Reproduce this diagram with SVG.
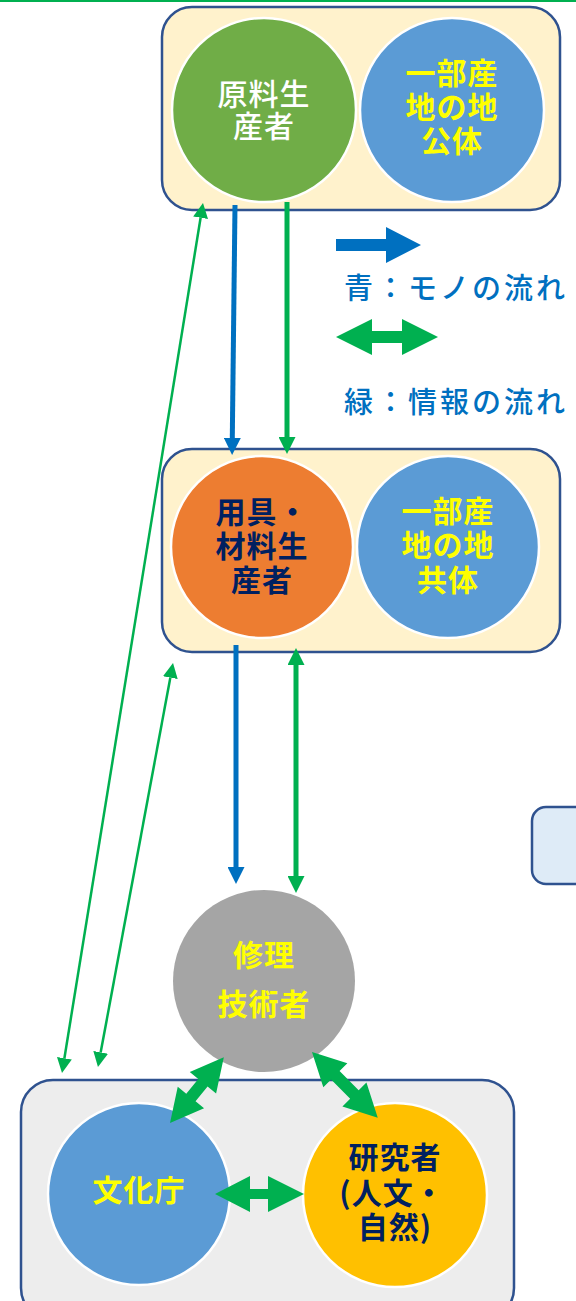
<svg xmlns="http://www.w3.org/2000/svg" width="576" height="1301" viewBox="0 0 576 1301">
<style>
.box{stroke:#2F528F;stroke-width:2.5}
.cir{stroke:#FFFFFF;stroke-width:2.5}
.t{font-family:"Noto Sans CJK JP","Noto Sans",sans-serif;font-size:30px;letter-spacing:1px;text-anchor:middle}
.b{font-weight:bold}
.m{font-weight:500}
.yel{fill:#FFFF00}
.nav{fill:#002060}
.wht{fill:#FFFFFF}
.leg{font-family:"Noto Sans CJK JP","Noto Sans",sans-serif;font-size:29px;font-weight:500;fill:#0070C0;letter-spacing:3px}
.gl{stroke:#00B050;fill:none}
.bl{stroke:#0070C0;fill:none}
</style>
<defs>
<marker id="hB" viewBox="0 0 17 17" refX="0" refY="8.5" markerWidth="17" markerHeight="17" markerUnits="userSpaceOnUse" orient="auto-start-reverse"><path d="M0,0 L17,8.5 L0,17 Z" fill="#0070C0"/></marker>
<marker id="hG" viewBox="0 0 17 17" refX="0" refY="8.5" markerWidth="17" markerHeight="17" markerUnits="userSpaceOnUse" orient="auto-start-reverse"><path d="M0,0 L17,8.5 L0,17 Z" fill="#00B050"/></marker>
<marker id="hT" viewBox="0 0 15 15" refX="0" refY="7.5" markerWidth="15" markerHeight="15" markerUnits="userSpaceOnUse" orient="auto-start-reverse"><path d="M0,0 L15,7.5 L0,15 Z" fill="#00B050"/></marker>
</defs>
<rect width="576" height="1301" fill="#FFFFFF"/>
<line x1="0" y1="1" x2="576" y2="1" stroke="#00B050" stroke-width="2"/>

<g id="group-top">
<rect class="box" x="162" y="7" width="398" height="203" rx="30" fill="#FFF2CC"/>
</g>
<g id="node-genryo">
<circle class="cir" cx="264" cy="110" r="92" fill="#70AD47"/>
<text class="t m wht" x="264" y="105">原料生</text>
<text class="t m wht" x="264" y="137">産者</text>
</g>
<g id="node-jichitai-1">
<circle class="cir" cx="452" cy="110" r="92" fill="#5B9BD5"/>
<text class="t b yel" x="452" y="84">一部産</text>
<text class="t b yel" x="452" y="118">地の地</text>
<text class="t b yel" x="452" y="152">公体</text>
</g>

<g id="legend">
<path d="M336,239 L386,239 L386,227 L421,245 L386,263 L386,251 L336,251 Z" fill="#0070C0"/>
<text class="leg" x="344" y="299">青：モノの流れ</text>
<path d="M336,337 L372,319 L372,331 L402,331 L402,319 L438,337 L402,355 L402,343 L372,343 L372,355 Z" fill="#00B050"/>
<text class="leg" x="344" y="413">緑：情報の流れ</text>
</g>

<g id="group-mid">
<rect class="box" x="162" y="449" width="398" height="203" rx="30" fill="#FFF2CC"/>
</g>
<g id="node-yogu">
<circle class="cir" cx="262" cy="547" r="91" fill="#ED7D31"/>
<text class="t b nav" x="262" y="523">用具・</text>
<text class="t b nav" x="262" y="557">材料生</text>
<text class="t b nav" x="262" y="591">産者</text>
</g>
<g id="node-jichitai-2">
<circle class="cir" cx="448" cy="547" r="91" fill="#5B9BD5"/>
<text class="t b yel" x="448" y="522">一部産</text>
<text class="t b yel" x="448" y="556">地の地</text>
<text class="t b yel" x="448" y="591">共体</text>
</g>

<g id="node-partial">
<rect class="box" x="532" y="807" width="70" height="77" rx="14" fill="#DEEBF7"/>
</g>

<g id="node-shuri">
<circle cx="264" cy="981" r="91" fill="#A5A5A5"/>
<text class="t b yel" x="264" y="966">修理</text>
<text class="t b yel" x="264" y="1015">技術者</text>
</g>

<g id="group-bottom">
<rect class="box" x="21" y="1080" width="493" height="240" rx="32" fill="#EDEDED"/>
</g>
<g id="node-bunkacho">
<circle class="cir" cx="139" cy="1194" r="91" fill="#5B9BD5"/>
<text class="t b yel" x="139" y="1201">文化庁</text>
</g>
<g id="node-kenkyusha">
<circle class="cir" cx="395" cy="1195" r="92" fill="#FFC000"/>
<text class="t b nav" x="395" y="1168">研究者</text>
<text class="t b nav" x="392" y="1204">(人文・</text>
<text class="t b nav" x="395" y="1238">自然)</text>
</g>

<g id="connectors">
<line class="bl" x1="235" y1="205" x2="232.3" y2="438" stroke-width="5" marker-end="url(#hB)"/>
<line class="gl" x1="287" y1="202" x2="287" y2="437" stroke-width="5" marker-end="url(#hG)"/>
<line class="bl" x1="236" y1="645" x2="236" y2="867" stroke-width="5" marker-end="url(#hB)"/>
<line class="gl" x1="296" y1="665" x2="296" y2="876" stroke-width="5" marker-start="url(#hG)" marker-end="url(#hG)"/>
<line class="gl" x1="200.6" y1="217.8" x2="64.4" y2="1058.2" stroke-width="2.5" marker-start="url(#hT)" marker-end="url(#hT)"/>
<line class="gl" x1="170.3" y1="677.7" x2="100.7" y2="1052.3" stroke-width="2.5" marker-start="url(#hT)" marker-end="url(#hT)"/>
<path transform="translate(170,1123) rotate(-50.7)" d="M0,0 L33,-17 L33,-6 L52,-6 L52,-17 L85,0 L52,17 L52,6 L33,6 L33,17 Z" fill="#00B050"/>
<path transform="translate(312,1052) rotate(45)" d="M0,0 L33,-17 L33,-6 L60,-6 L60,-17 L93,0 L60,17 L60,6 L33,6 L33,17 Z" fill="#00B050"/>
<path transform="translate(215,1194)" d="M0,0 L35,-18 L35,-5 L53,-5 L53,-18 L89,0 L53,18 L53,5 L35,5 L35,18 Z" fill="#00B050"/>
</g>
</svg>
